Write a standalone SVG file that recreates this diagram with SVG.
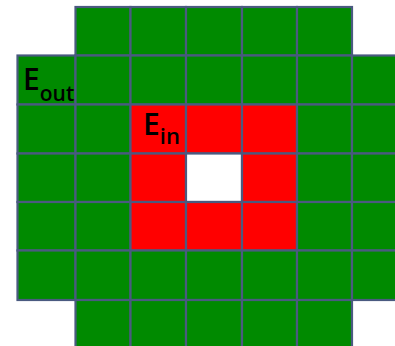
<svg xmlns="http://www.w3.org/2000/svg" width="395" height="346" viewBox="0 0 395 346">
<style>
.g{fill:#008a00;stroke:#4a5a80;stroke-width:2.2}
.r{fill:#ff0000;stroke:#4a5a80;stroke-width:2.2}
.w{fill:#ffffff;stroke:#4a5a80;stroke-width:2.2}
.t{font-family:"Open Sans","Liberation Sans",sans-serif;font-weight:600;fill:#000}
</style>
<rect width="395" height="346" fill="#fff"/>
<g id="row0">
<rect class="g" x="75.5" y="7" width="55" height="48.5"/>
<rect class="g" x="130.5" y="7" width="55.5" height="48.5"/>
<rect class="g" x="186" y="7" width="56" height="48.5"/>
<rect class="g" x="242" y="7" width="55" height="48.5"/>
<rect class="g" x="297" y="7" width="55" height="48.5"/>
</g>
<g id="row1">
<rect class="g" x="17.5" y="55.5" width="58" height="49"/>
<rect class="g" x="75.5" y="55.5" width="55" height="49"/>
<rect class="g" x="130.5" y="55.5" width="55.5" height="49"/>
<rect class="g" x="186" y="55.5" width="56" height="49"/>
<rect class="g" x="242" y="55.5" width="55" height="49"/>
<rect class="g" x="297" y="55.5" width="55" height="49"/>
<rect class="g" x="352" y="55.5" width="56" height="49"/>
</g>
<g id="row2">
<rect class="g" x="17.5" y="104.5" width="58" height="49"/>
<rect class="g" x="75.5" y="104.5" width="55" height="49"/>
<rect class="r" x="130.5" y="104.5" width="55.5" height="49"/>
<rect class="r" x="186" y="104.5" width="56" height="49"/>
<rect class="r" x="242" y="104.5" width="55" height="49"/>
<rect class="g" x="297" y="104.5" width="55" height="49"/>
<rect class="g" x="352" y="104.5" width="56" height="49"/>
</g>
<g id="row3">
<rect class="g" x="17.5" y="153.5" width="58" height="48.5"/>
<rect class="g" x="75.5" y="153.5" width="55" height="48.5"/>
<rect class="r" x="130.5" y="153.5" width="55.5" height="48.5"/>
<rect class="w" x="186" y="153.5" width="56" height="48.5"/>
<rect class="r" x="242" y="153.5" width="55" height="48.5"/>
<rect class="g" x="297" y="153.5" width="55" height="48.5"/>
<rect class="g" x="352" y="153.5" width="56" height="48.5"/>
</g>
<g id="row4">
<rect class="g" x="17.5" y="202" width="58" height="48.5"/>
<rect class="g" x="75.5" y="202" width="55" height="48.5"/>
<rect class="r" x="130.5" y="202" width="55.5" height="48.5"/>
<rect class="r" x="186" y="202" width="56" height="48.5"/>
<rect class="r" x="242" y="202" width="55" height="48.5"/>
<rect class="g" x="297" y="202" width="55" height="48.5"/>
<rect class="g" x="352" y="202" width="56" height="48.5"/>
</g>
<g id="row5">
<rect class="g" x="17.5" y="250.5" width="58" height="49.5"/>
<rect class="g" x="75.5" y="250.5" width="55" height="49.5"/>
<rect class="g" x="130.5" y="250.5" width="55.5" height="49.5"/>
<rect class="g" x="186" y="250.5" width="56" height="49.5"/>
<rect class="g" x="242" y="250.5" width="55" height="49.5"/>
<rect class="g" x="297" y="250.5" width="55" height="49.5"/>
<rect class="g" x="352" y="250.5" width="56" height="49.5"/>
</g>
<g id="row6">
<rect class="g" x="75.5" y="300" width="55" height="50"/>
<rect class="g" x="130.5" y="300" width="55.5" height="50"/>
<rect class="g" x="186" y="300" width="56" height="50"/>
<rect class="g" x="242" y="300" width="55" height="50"/>
<rect class="g" x="297" y="300" width="55" height="50"/>
</g>
<g id="label-out">
<text class="t" x="23" y="89.5" font-size="30">E<tspan font-size="21" dy="11">out</tspan></text>
</g>
<g id="label-in">
<text class="t" x="143" y="135" font-size="30">E<tspan font-size="22" dy="9">in</tspan></text>
</g>
</svg>
